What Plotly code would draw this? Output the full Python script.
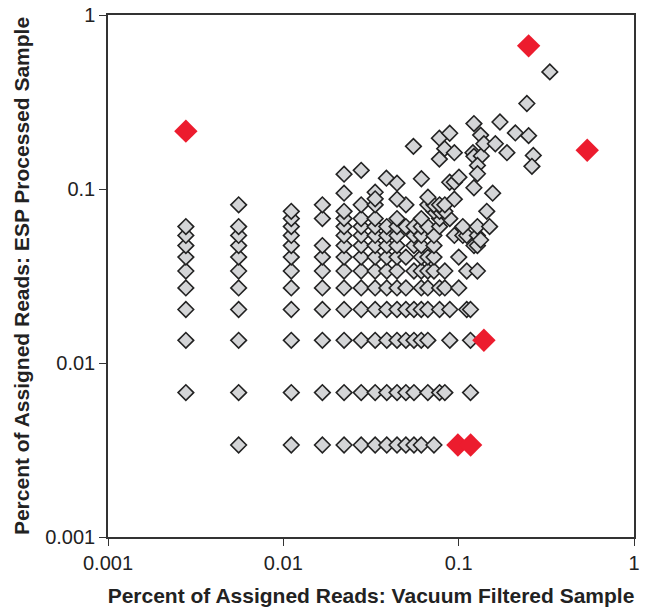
import plotly.graph_objects as go

# x levels (Vacuum Filtered)
XL = {1: 0.00278, 2: 0.00556, 4: 0.0111, 6: 0.0167, 8: 0.0222, 10: 0.0278, 12: 0.0334,
      14: 0.0389, 16: 0.0445, 18: 0.0500, 20: 0.0556, 22: 0.0612, 24: 0.0667, 26: 0.0723,
      28: 0.0778, 30: 0.0834, 32: 0.0890, 34: 0.0945, 36: 0.1001, 38: 0.1056, 40: 0.1112,
      42: 0.1168, 44: 0.1223, 46: 0.1279, 52: 0.1446, 54: 0.1501}

# rows of points sharing the same y value (ESP Processed): y -> list of x-level keys
ROWS = {
    0.00338: [2, 4, 6, 8, 10, 12, 14, 16, 18, 20, 22, 26],
    0.00676: [1, 2, 4, 6, 8, 10, 12, 14, 16, 18, 20, 24, 28, 30, 42],
    0.0135: [1, 2, 4, 6, 8, 10, 12, 14, 16, 18, 20, 22, 24, 32, 42],
    0.0203: [1, 2, 4, 6, 8, 10, 12, 14, 16, 18, 20, 22, 24, 28, 32, 40, 42],
    0.0270: [1, 2, 4, 6, 8, 10, 12, 14, 16, 18, 22, 24, 28, 30, 36],
    0.0338: [1, 2, 4, 6, 8, 10, 12, 14, 16, 20, 22, 24, 26, 30, 40, 46],
    0.0406: [1, 2, 4, 6, 8, 10, 12, 14, 16, 18, 22, 24, 26, 36],
    0.0473: [1, 2, 4, 6, 8, 10, 12, 14, 16, 20, 22, 26, 44, 46],
    0.0541: [1, 2, 4, 8, 10, 12, 14, 16, 20, 22, 26, 34, 38, 40, 46],
    0.0608: [1, 2, 4, 8, 10, 12, 14, 16, 18, 20, 22, 24, 28, 38, 46, 54],
    0.0676: [4, 6, 8, 10, 12, 16, 22, 28, 32],
    0.0744: [4, 8, 26, 28, 30, 52],
    0.0811: [2, 6, 10, 12, 18, 24, 26, 28, 30],
}

# remaining grey points
FREE_X = [0.0334, 0.0334, 0.0445, 0.0668, 0.0945, 0.1563, 0.0387, 0.0445, 0.0613, 0.0889,
          0.0945, 0.1004, 0.1222, 0.0222, 0.0222, 0.0278, 0.0552, 0.0776, 0.0889, 0.0832,
          0.0945, 0.0776, 0.1206, 0.1222, 0.1346, 0.1280, 0.1280, 0.1222, 0.1720, 0.2105,
          0.2506, 0.1334, 0.1393, 0.1619, 0.1885, 0.2665, 0.2617, 0.2449, 0.3310, 0.1334]
FREE_Y = [0.0958, 0.0878, 0.0874, 0.0897, 0.0874, 0.0946, 0.1154, 0.1080, 0.1145, 0.1094,
          0.1094, 0.1170, 0.1016, 0.0946, 0.1217, 0.1280, 0.1758, 0.1960, 0.2090, 0.1706,
          0.1617, 0.1485, 0.1617, 0.1540, 0.1550, 0.1366, 0.1224, 0.2376, 0.2427, 0.2100,
          0.2026, 0.2040, 0.1820, 0.1820, 0.1617, 0.1560, 0.1350, 0.3100, 0.4710, 0.0509]

# highlighted (red) points
RED_X = [0.00278, 0.2506, 0.541, 0.1393, 0.0990, 0.1170]
RED_Y = [0.215, 0.665, 0.167, 0.0135, 0.00338, 0.00338]

TICKS = [0.001, 0.01, 0.1, 1]
TICK_TEXT = ["0.001", "0.01", "0.1", "1"]

gx, gy = [], []
for yv, ks in ROWS.items():
    for k in ks:
        gx.append(XL[k])
        gy.append(yv)
gx += FREE_X
gy += FREE_Y

FONT = "Liberation Sans, Arial, sans-serif"

fig = go.Figure()
fig.add_trace(go.Scatter(
    x=gx, y=gy, mode="markers",
    marker=dict(symbol="diamond", size=12, color="#d4d5d7",
                line=dict(color="#222222", width=1.6)),
    showlegend=False))
fig.add_trace(go.Scatter(
    x=RED_X, y=RED_Y, mode="markers",
    marker=dict(symbol="diamond", size=18, color="#ec1c2e", line=dict(width=0)),
    showlegend=False))

axis_common = dict(
    type="log", range=[-3, 0], tickvals=TICKS, ticktext=TICK_TEXT,
    showgrid=False, zeroline=False, showline=True, linecolor="#333333", linewidth=1.5,
    mirror=True, ticks="outside", ticklen=7, tickwidth=1.2, tickcolor="#333333",
    tickfont=dict(family=FONT, size=20, color="#222222"),
    ticklabeloverflow="allow",
    automargin=False,
)
fig.update_xaxes(**axis_common,
                 title=dict(text="<b>Percent of Assigned Reads: Vacuum Filtered Sample</b>",
                            font=dict(family=FONT, size=21, color="#222222"), standoff=16))
fig.update_yaxes(**axis_common,
                 title=dict(text="<b>Percent of Assigned Reads: ESP Processed Sample</b>",
                            font=dict(family=FONT, size=21, color="#222222"), standoff=10))
fig.update_layout(
    width=649, height=608,
    margin=dict(l=108, r=15, t=15, b=71),
    plot_bgcolor="white", paper_bgcolor="white",
)
fig.write_html("out.html", config={"displayModeBar": False},
               post_script="document.body.style.margin='0';")
